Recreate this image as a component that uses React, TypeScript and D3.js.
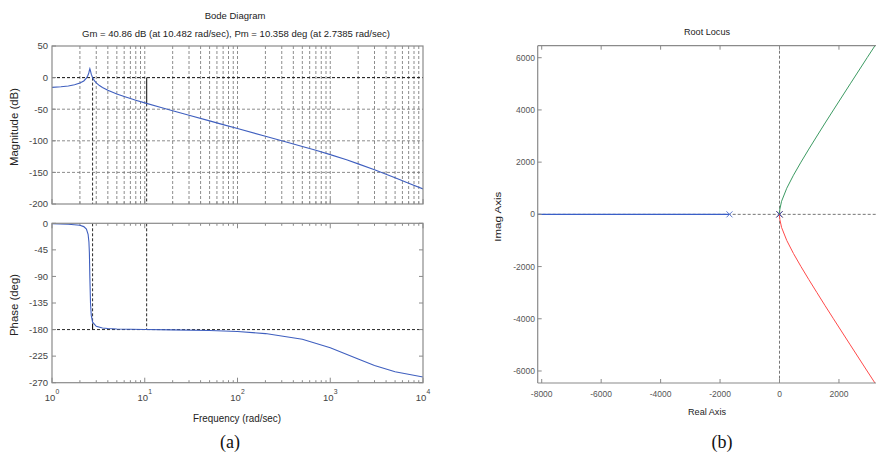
import React from 'react';
import * as d3 from 'd3';

// ---------- Data ----------
const magFreq = [1, 1.25, 1.5, 1.75, 2, 2.2, 2.35, 2.45, 2.5, 2.53, 2.56, 2.6, 2.65, 2.74, 2.85, 3, 3.25, 3.5, 4, 5, 6, 7, 8, 10, 15, 20, 30, 50, 70, 100, 200, 300, 500, 700, 1000, 1500, 2000, 3000, 5000, 7000, 10000];
const magDb = [-15.5, -14.5, -13.3, -11.4, -8.7, -5.3, -0.9, 4.0, 8.1, 11.3, 14.0, 10.5, 5.4, -0.1, -4.4, -8.3, -12.6, -15.6, -20.1, -25.9, -29.9, -33.1, -35.7, -40.0, -47.3, -52.4, -59.6, -68.5, -74.4, -80.6, -92.7, -99.8, -108.9, -115.1, -121.9, -130.1, -136.5, -145.9, -158.4, -167.1, -176.2];

const phaseFreq = [1, 1.5, 2, 2.2, 2.35, 2.45, 2.5, 2.53, 2.56, 2.6, 2.65, 2.74, 3, 3.5, 4, 5, 7, 10, 20, 50, 100, 200, 500, 1000, 2000, 3000, 5000, 10000];
const phaseDeg = [-0.8, -1.5, -3.4, -5.6, -9.8, -18.6, -31.4, -49.8, -92, -134.5, -156, -167.5, -174.6, -177.3, -178.1, -179.0, -179.5, -179.9, -180.5, -181.7, -183.4, -186.8, -196.5, -210.7, -229.9, -240.7, -251.4, -260.4];

const magTicks = [50, 0, -50, -100, -150, -200];
const phaseTicks = [0, -45, -90, -135, -180, -225, -270];
const decadeExps = [0, 1, 2, 3, 4];

const gmFreq = 10.482;
const gmDb = 40.86;
const pmFreq = 2.7385;
const pmDeg = 10.358;

const bodeTitle = 'Bode Diagram';
const bodeSubtitle = 'Gm = 40.86 dB (at 10.482 rad/sec),  Pm = 10.358 deg (at 2.7385 rad/sec)';

// Root locus branches
const rlUpperReal = [0, 3, 12, 69, 244, 470, 722, 987, 1260, 1535, 1815, 2380, 2948, 3520];
const rlUpperImag = [0, 80, 200, 500, 1000, 1500, 2000, 2500, 3000, 3500, 4000, 5000, 6000, 7000];
const rlLowerReal = [0, 3, 12, 69, 244, 470, 722, 987, 1260, 1535, 1815, 2380, 2948, 3520];
const rlLowerImag = [0, -80, -200, -500, -1000, -1500, -2000, -2500, -3000, -3500, -4000, -5000, -6000, -7000];
const rlRealBranch = [-1683, -9000];
const rlPoles = [-1683, 0];

const rlRealTicks = [-8000, -6000, -4000, -2000, 0, 2000];
const rlImagTicks = [6000, 4000, 2000, 0, -2000, -4000, -6000];

const FONT = 'Liberation Sans, Arial, sans-serif';

export default function App() {
  // Bode scales
  const xB = d3.scaleLog().domain([1, 1e4]).range([52, 423]);
  const yMag = d3.scaleLinear().domain([-200, 50]).range([204, 46]);
  const yPh = d3.scaleLinear().domain([-270, 0]).range([382.7, 223.3]);

  // Root locus scales
  const xR = d3.scaleLinear().domain([-8135, 3300]).range([537.7, 877.6]);
  const yR = d3.scaleLinear().domain([-6460, 6460]).range([383, 45.7]);

  const minorFreqs: number[] = [];
  for (let e = 0; e < 4; e++) for (let k = 2; k <= 9; k++) minorFreqs.push(k * Math.pow(10, e));
  const decadeFreqs = decadeExps.map((e) => Math.pow(10, e));
  const allFreqs = [...decadeFreqs, ...minorFreqs];

  const magLine = d3.line<number>().x((_, i) => xB(magFreq[i])).y((d) => yMag(d));
  const phLine = d3.line<number>().x((_, i) => xB(phaseFreq[i])).y((d) => yPh(d));
  const upLine = d3.line<number>().x((d) => xR(d)).y((_, i) => yR(rlUpperImag[i]));
  const loLine = d3.line<number>().x((d) => xR(d)).y((_, i) => yR(rlLowerImag[i]));

  const [mx0, mx1] = xB.range();
  const frame = '#8a8a8a';
  const grid = '#707070';
  const blue = '#3f5fbf';

  const magTop = yMag(50), magBot = yMag(-200);
  const phTop = yPh(0), phBot = yPh(-270);

  const rlL = xR(-8135), rlT = yR(6460), rlB = yR(-6460);

  const xMark = (cx: number, cy: number, color: string, s = 3) => (
    <g stroke={color} strokeWidth={1}>
      <line x1={cx - s} y1={cy - s} x2={cx + s} y2={cy + s} />
      <line x1={cx - s} y1={cy + s} x2={cx + s} y2={cy - s} />
    </g>
  );

  return (
    <svg width={876} height={457} style={{ position: 'absolute', left: 0, top: 0, background: '#fff' }} fontFamily={FONT}>
      <defs>
        <clipPath id="magClip"><rect x={mx0} y={magTop} width={mx1 - mx0} height={magBot - magTop} /></clipPath>
        <clipPath id="phClip"><rect x={mx0} y={phTop} width={mx1 - mx0} height={phBot - phTop} /></clipPath>
        <clipPath id="rlClip"><rect x={rlL} y={rlT} width={876 - rlL} height={rlB - rlT} /></clipPath>
      </defs>
      <rect x={0} y={0} width={876} height={457} fill="#fff" />

      {/* ---------- Bode titles ---------- */}
      <text x={235} y={19} textAnchor="middle" fontSize={9.5} fill="#222">{bodeTitle}</text>
      <text x={236} y={37} textAnchor="middle" fontSize={9.5} fill="#222" textLength={308} lengthAdjust="spacingAndGlyphs">{bodeSubtitle}</text>

      {/* ---------- Magnitude plot ---------- */}
      <g>
        {allFreqs.filter((f) => f > 1 && f < 1e4).map((f, i) => (
          <line key={'vg' + i} x1={xB(f)} x2={xB(f)} y1={magTop} y2={magBot} stroke={grid} strokeWidth={0.8} strokeDasharray="3,2" />
        ))}
        {magTicks.filter((t) => t !== 50 && t !== -200).map((t) => (
          <line key={'hg' + t} x1={mx0} x2={mx1} y1={yMag(t)} y2={yMag(t)} stroke={grid} strokeWidth={0.8} strokeDasharray="3,2" />
        ))}
        {allFreqs.map((f, i) => {
          const major = decadeFreqs.includes(f);
          return <line key={'mbt' + i} x1={xB(f)} x2={xB(f)} y1={magBot} y2={magBot - (major ? 5 : 2.5)} stroke={frame} />;
        })}
        {/* margin lines */}
        <line x1={mx0} x2={mx1} y1={yMag(0)} y2={yMag(0)} stroke="#111" strokeWidth={0.9} strokeDasharray="3,2" />
        <line x1={xB(pmFreq)} x2={xB(pmFreq)} y1={yMag(0)} y2={magBot} stroke="#111" strokeWidth={0.9} strokeDasharray="3,2" />
        <line x1={xB(gmFreq)} x2={xB(gmFreq)} y1={yMag(-gmDb)} y2={magBot} stroke="#111" strokeWidth={0.9} strokeDasharray="3,2" />
        <line x1={xB(gmFreq)} x2={xB(gmFreq)} y1={yMag(0)} y2={yMag(-gmDb)} stroke="#333" strokeWidth={1.2} />
        <path d={magLine(magDb) || ''} fill="none" stroke={blue} strokeWidth={1.1} clipPath="url(#magClip)" />
        <rect x={mx0} y={magTop} width={mx1 - mx0} height={magBot - magTop} fill="none" stroke={frame} strokeWidth={1.2} />
        {magTicks.map((t) => (
          <g key={'mt' + t}>
            <line x1={mx0} x2={mx0 + 4} y1={yMag(t)} y2={yMag(t)} stroke={frame} />
            <text x={48} y={yMag(t) + 3.3} textAnchor="end" fontSize={9.5} fill="#444">{t}</text>
          </g>
        ))}
        <text transform={`translate(18,${(magTop + magBot) / 2 + 2}) rotate(-90)`} textAnchor="middle" fontSize={10.5} fill="#222" textLength={78} lengthAdjust="spacingAndGlyphs">Magnitude (dB)</text>
      </g>

      {/* ---------- Phase plot ---------- */}
      <g>
        {allFreqs.map((f, i) => {
          const major = decadeFreqs.includes(f);
          const len = major ? 5 : 2.5;
          return (
            <g key={'pt' + i}>
              <line x1={xB(f)} x2={xB(f)} y1={phTop} y2={phTop + len} stroke={frame} />
              <line x1={xB(f)} x2={xB(f)} y1={phBot} y2={phBot - len} stroke={frame} />
            </g>
          );
        })}
        <line x1={mx0} x2={mx1} y1={yPh(-180)} y2={yPh(-180)} stroke="#111" strokeWidth={0.9} strokeDasharray="3,2" />
        <line x1={xB(pmFreq)} x2={xB(pmFreq)} y1={phTop} y2={yPh(-180 + pmDeg)} stroke="#111" strokeWidth={0.9} strokeDasharray="3,2" />
        <line x1={xB(pmFreq)} x2={xB(pmFreq)} y1={yPh(-180 + pmDeg)} y2={yPh(-180)} stroke="#111" strokeWidth={1.1} />
        <line x1={xB(gmFreq)} x2={xB(gmFreq)} y1={phTop} y2={yPh(-180)} stroke="#111" strokeWidth={0.9} strokeDasharray="3,2" />
        <path d={phLine(phaseDeg) || ''} fill="none" stroke={blue} strokeWidth={1.1} clipPath="url(#phClip)" />
        <rect x={mx0} y={phTop} width={mx1 - mx0} height={phBot - phTop} fill="none" stroke={frame} strokeWidth={1.2} />
        {phaseTicks.map((t) => (
          <g key={'ph' + t}>
            <line x1={mx0} x2={mx0 + 4} y1={yPh(t)} y2={yPh(t)} stroke={frame} />
            <line x1={mx1} x2={mx1 - 4} y1={yPh(t)} y2={yPh(t)} stroke={frame} />
            <text x={48} y={yPh(t) + 3.3} textAnchor="end" fontSize={9.5} fill="#444">{t}</text>
          </g>
        ))}
        {decadeExps.map((e) => (
          <g key={'dx' + e}>
            <text x={xB(Math.pow(10, e)) - 2} y={401} textAnchor="middle" fontSize={9.5} fill="#444">10</text>
            <text x={xB(Math.pow(10, e)) + 3.5} y={394} textAnchor="start" fontSize={6.8} fill="#444">{e}</text>
          </g>
        ))}
        <text transform={`translate(18,${(phTop + phBot) / 2 + 2}) rotate(-90)`} textAnchor="middle" fontSize={10.5} fill="#222" textLength={62} lengthAdjust="spacingAndGlyphs">Phase (deg)</text>
        <text x={237} y={422} textAnchor="middle" fontSize={10} fill="#222" textLength={88} lengthAdjust="spacingAndGlyphs">Frequency (rad/sec)</text>
      </g>
      <text x={230} y={448} textAnchor="middle" fontSize={18} fontFamily="Liberation Serif, serif" fill="#111">(a)</text>

      {/* ---------- Root locus ---------- */}
      <g>
        <text x={707} y={35} textAnchor="middle" fontSize={9.5} fill="#222" textLength={46} lengthAdjust="spacingAndGlyphs">Root Locus</text>
        <g clipPath="url(#rlClip)">
          <line x1={xR(0)} x2={xR(0)} y1={rlT} y2={rlB} stroke="#666" strokeWidth={0.9} strokeDasharray="3,2" />
          <line x1={rlL} x2={880} y1={yR(0)} y2={yR(0)} stroke="#666" strokeWidth={0.9} strokeDasharray="3,2" />
          <line x1={xR(rlRealBranch[0])} x2={xR(rlRealBranch[1])} y1={yR(0)} y2={yR(0)} stroke="#3a5fc8" strokeWidth={1.3} />
          <path d={upLine(rlUpperReal) || ''} fill="none" stroke="#3c9a62" strokeWidth={1} />
          <path d={loLine(rlLowerReal) || ''} fill="none" stroke="#ff4a4a" strokeWidth={1} />
          {xMark(xR(rlPoles[0]), yR(0), '#5a78d0', 3)}
          {xMark(xR(rlPoles[1]), yR(0), '#3c9a62', 3)}
          {xMark(xR(rlPoles[1]), yR(0), '#ff4a4a', 3)}
          {xMark(xR(rlPoles[1]), yR(0), '#2d4fb8', 3)}
        </g>
        <line x1={rlL} x2={876} y1={rlT} y2={rlT} stroke={frame} strokeWidth={1.2} />
        <line x1={rlL} x2={876} y1={rlB} y2={rlB} stroke={frame} strokeWidth={1.2} />
        <line x1={rlL} x2={rlL} y1={rlT} y2={rlB} stroke={frame} strokeWidth={1.2} />
        {rlRealTicks.map((t) => (
          <g key={'rx' + t}>
            <line x1={xR(t)} x2={xR(t)} y1={rlT} y2={rlT + 4} stroke={frame} />
            <line x1={xR(t)} x2={xR(t)} y1={rlB} y2={rlB - 4} stroke={frame} />
            <text x={xR(t)} y={397} textAnchor="middle" fontSize={8.5} fill="#555">{t}</text>
          </g>
        ))}
        {rlImagTicks.map((t) => (
          <g key={'ry' + t}>
            <line x1={rlL} x2={rlL + 4} y1={yR(t)} y2={yR(t)} stroke={frame} />
            <text x={535} y={yR(t) + 3} textAnchor="end" fontSize={8.5} fill="#555">{t}</text>
          </g>
        ))}
        <text x={707} y={415} textAnchor="middle" fontSize={9.5} fill="#222" textLength={38} lengthAdjust="spacingAndGlyphs">Real Axis</text>
        <text transform={`translate(501,216.7) rotate(-90)`} textAnchor="middle" fontSize={9.5} fill="#222" textLength={50} lengthAdjust="spacingAndGlyphs">Imag Axis</text>
      </g>
      <text x={722} y={448} textAnchor="middle" fontSize={18} fontFamily="Liberation Serif, serif" fill="#111">(b)</text>
    </svg>
  );
}
